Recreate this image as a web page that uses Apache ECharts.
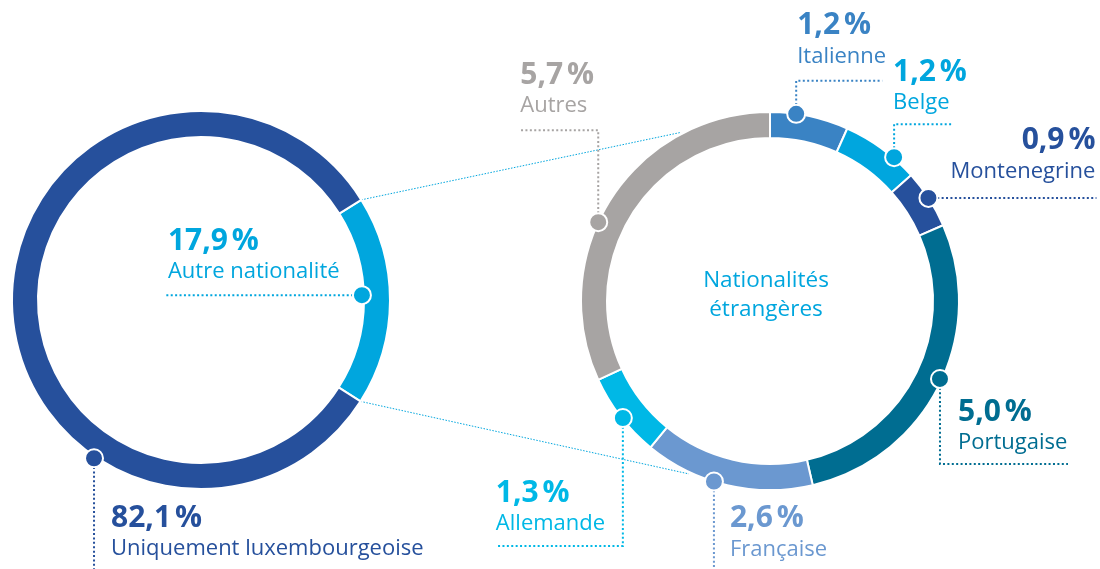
<!DOCTYPE html>
<html>
<head>
<meta charset="utf-8">
<script src="https://cdn.jsdelivr.net/npm/echarts@6/dist/echarts.min.js"></script>
<style>html,body{margin:0;padding:0;background:#fff}#c{width:1100px;height:569px}</style>
</head>
<body>
<div id="c"></div>
<script>
// ---------- data ----------
const leftNames = ['Autre nationalité', 'Uniquement luxembourgeoise'];
const leftValues = [17.9, 82.1];
const rightNames = ['Italienne', 'Belge', 'Montenegrine', 'Portugaise', 'Française', 'Allemande', 'Autres'];
const rightValues = [1.2, 1.2, 0.9, 5.0, 2.6, 1.3, 5.7];
const centerTitle = 'Nationalités\nétrangères';

// ---------- styling / layout ----------
const leftColors = ['#00a6de', '#26509c'];
const rightColors = ['#3a83c4', '#00a6de', '#26509c', '#006d91', '#6b98d0', '#00b8e6', '#a7a4a3'];
const FONT = '"Open Sans", "Noto Sans", sans-serif';
const R_OUT = 189, R_IN = 163;
const leftCenter = [201, 300], rightCenter = [770, 301];
// marker position inside each slice (fraction) and marker radius
const leftMarkFrac = [0.47, 0.31];
const leftMarkR = [161, 191];
const rightMarkFrac = [0.33, 0.69, 0.48, 0.48, 0.58, 0.47, 0.43];
const rightMarkR = [189, 190, 189, 187, 189, 188, 189];
// leader routes & label offsets relative to the marker
const leftLayout = [
  {route: [[0, 0], [-196, 0]], lab: [-194, -54], align: 'left'},
  {route: [[0, 0], [0, 130]], lab: [17, 60], align: 'left'}
];
const rightLayout = [
  {route: [[0, 0], [0, -33], [86, -33]], lab: [1, -88], align: 'left'},
  {route: [[0, 0], [0, -33], [59, -33]], lab: [-1, -85], align: 'left'},
  {route: [[0, 0], [168, 0]], lab: [167, -57], align: 'right'},
  {route: [[0, 0], [0, 85], [128, 85]], lab: [18, 33], align: 'left'},
  {route: [[0, 0], [0, 100]], lab: [16, 37], align: 'left'},
  {route: [[0, 0], [0, 128], [-127, 128]], lab: [-127, 75], align: 'left'},
  {route: [[0, 0], [0, -92], [-78, -92]], lab: [-78, -147], align: 'left'}
];
// where the dotted connectors touch the right ring (angle units of the right ring)
const connectorRightAngles = [16.5, 10.2];

function fmt(v) { return v.toFixed(1).replace('.', ',') + '\u202f%'; }
function starts(vals) { let s = 0; return vals.map(v => { const st = s; s += v; return st; }); }
function sum(vals) { return vals.reduce((a, b) => a + b, 0); }

function markerData(vals, frac, rad) {
  const st = starts(vals);
  return vals.map((v, i) => [rad[i], st[i] + frac[i] * v, i]);
}

function makeRender(names, vals, colors, layout) {
  return function (params, api) {
    const i = api.value(2);
    const p = api.coord([api.value(0), api.value(1)]);
    const L = layout[i];
    const col = colors[i];
    const pts = L.route.map(d => [p[0] + d[0], p[1] + d[1]]);
    const lx = p[0] + L.lab[0], ly = p[1] + L.lab[1];
    return {
      type: 'group',
      children: [
        {type: 'polyline', shape: {points: pts},
         style: {stroke: col, lineWidth: 2, lineDash: [2, 2.4], fill: null}},
        {type: 'circle', shape: {cx: p[0], cy: p[1], r: 9},
         style: {fill: col, stroke: '#fff', lineWidth: 2}},
        {type: 'text', x: lx, y: ly,
         style: {text: fmt(vals[i]), fill: col, font: 'bold 30px ' + FONT,
                 align: L.align, verticalAlign: 'middle', textAlign: L.align, textVerticalAlign: 'middle'}},
        {type: 'text', x: lx, y: ly + 31,
         style: {text: names[i], fill: col, font: '22px ' + FONT,
                 align: L.align, verticalAlign: 'middle', textAlign: L.align, textVerticalAlign: 'middle'}}
      ]
    };
  };
}

const chart = echarts.init(document.getElementById('c'), null, {renderer: 'canvas'});
const leftTotal = sum(leftValues), rightTotal = sum(rightValues);

chart.setOption({
  animation: false,
  backgroundColor: '#fff',
  polar: [
    {center: leftCenter, radius: R_OUT},
    {center: rightCenter, radius: R_OUT}
  ],
  angleAxis: [
    {polarIndex: 0, type: 'value', min: 0, max: leftTotal, startAngle: 32, clockwise: true, show: false},
    {polarIndex: 1, type: 'value', min: 0, max: rightTotal, startAngle: 90, clockwise: true, show: false}
  ],
  radiusAxis: [
    {polarIndex: 0, type: 'value', min: 0, max: R_OUT, show: false},
    {polarIndex: 1, type: 'value', min: 0, max: R_OUT, show: false}
  ],
  series: [
    {type: 'pie', center: leftCenter, radius: [R_IN, R_OUT], startAngle: 32, clockwise: true,
     silent: true, label: {show: false}, labelLine: {show: false},
     itemStyle: {borderColor: '#fff', borderWidth: 2},
     data: leftValues.map((v, i) => ({name: leftNames[i], value: v, itemStyle: {color: leftColors[i]}}))},
    {type: 'pie', center: rightCenter, radius: [R_IN, R_OUT], startAngle: 90, clockwise: true,
     silent: true, label: {show: false}, labelLine: {show: false},
     itemStyle: {borderColor: '#fff', borderWidth: 2},
     data: rightValues.map((v, i) => ({name: rightNames[i], value: v, itemStyle: {color: rightColors[i]}}))},
    {type: 'custom', coordinateSystem: 'polar', polarIndex: 0, silent: true, z: 5,
     encode: {radius: 0, angle: 1},
     renderItem: makeRender(leftNames, leftValues, leftColors, leftLayout),
     data: markerData(leftValues, leftMarkFrac, leftMarkR)},
    {type: 'custom', coordinateSystem: 'polar', polarIndex: 1, silent: true, z: 5,
     encode: {radius: 0, angle: 1},
     renderItem: makeRender(rightNames, rightValues, rightColors, rightLayout),
     data: markerData(rightValues, rightMarkFrac, rightMarkR)}
  ]
});

// connectors between the two rings and centre title
const a1 = chart.convertToPixel({seriesIndex: 2}, [R_OUT, 0]);
const a2 = chart.convertToPixel({seriesIndex: 2}, [R_OUT, leftValues[0]]);
const b1 = chart.convertToPixel({seriesIndex: 3}, [R_OUT + 2, connectorRightAngles[0]]);
const b2 = chart.convertToPixel({seriesIndex: 3}, [R_OUT + 2, connectorRightAngles[1]]);
const rc = chart.convertToPixel({seriesIndex: 3}, [0, 0]);
chart.setOption({
  graphic: [
    {type: 'line', shape: {x1: a1[0], y1: a1[1], x2: b1[0], y2: b1[1]}, z: 1,
     style: {stroke: '#00a6de', lineWidth: 1, lineDash: [1.5, 1.5]}},
    {type: 'line', shape: {x1: a2[0], y1: a2[1], x2: b2[0], y2: b2[1]}, z: 1,
     style: {stroke: '#00a6de', lineWidth: 1, lineDash: [1.5, 1.5]}},
    {type: 'text', x: rc[0] - 4, y: rc[1] - 6, z: 10,
     style: {text: centerTitle, fill: '#00a6de', font: '22.5px ' + FONT, lineHeight: 29,
             align: 'center', verticalAlign: 'middle', textAlign: 'center', textVerticalAlign: 'middle'}}
  ]
});
</script>
</body>
</html>
